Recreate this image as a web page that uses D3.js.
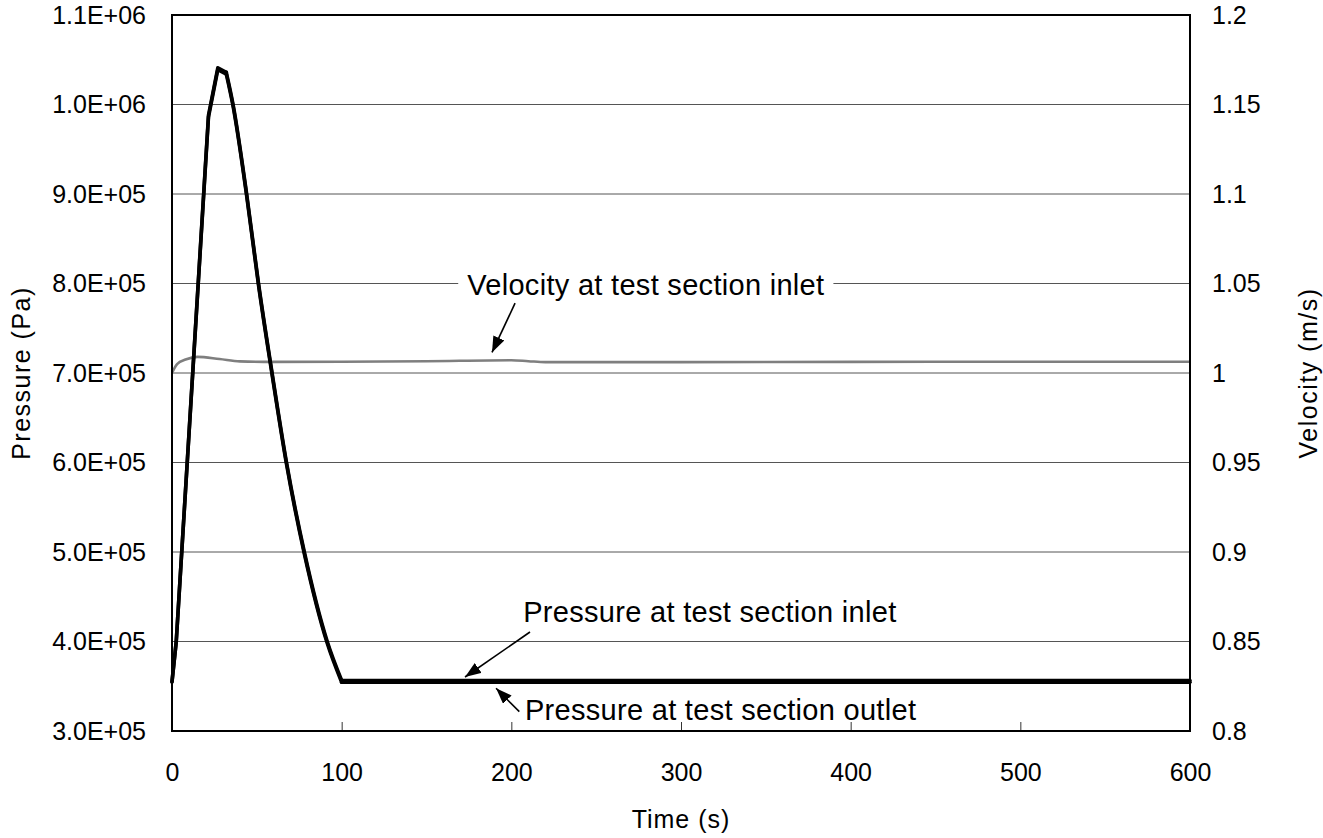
<!DOCTYPE html>
<html>
<head>
<meta charset="utf-8">
<script src="https://cdn.jsdelivr.net/npm/d3@7"></script>
<style>
  html, body { margin: 0; padding: 0; background: #fff; }
  svg { display: block; font-family: "Liberation Sans", Arial, sans-serif; }
</style>
</head>
<body>
<svg id="chart" width="1323" height="838"></svg>
<script>
// ---------- DATA ----------
const timeTicks = [0, 100, 200, 300, 400, 500, 600];
const timeTickLabels = ["0", "100", "200", "300", "400", "500", "600"];
const pressureTicks = [3e5, 4e5, 5e5, 6e5, 7e5, 8e5, 9e5, 1e6, 1.1e6];
const pressureTickLabels = ["3.0E+05", "4.0E+05", "5.0E+05", "6.0E+05", "7.0E+05", "8.0E+05", "9.0E+05", "1.0E+06", "1.1E+06"];
const velocityTicks = [0.8, 0.85, 0.9, 0.95, 1.0, 1.05, 1.1, 1.15, 1.2];
const velocityTickLabels = ["0.8", "0.85", "0.9", "0.95", "1", "1.05", "1.1", "1.15", "1.2"];

const pressureTime = [0, 2.5, 21.5, 27, 32, 36, 44, 51, 59, 67.5, 78, 91.5, 100, 600];
const pressureInlet = [3.55e5, 4.0e5, 9.88e5, 1.041e6, 1.036e6, 1.0e6, 9.0e5, 8.0e5, 7.0e5, 6.0e5, 5.0e5, 4.0e5, 3.565e5, 3.565e5];
const pressureOutlet = [3.55e5, 4.0e5, 9.86e5, 1.039e6, 1.034e6, 0.998e6, 8.98e5, 7.98e5, 6.98e5, 5.98e5, 4.98e5, 3.98e5, 3.545e5, 3.545e5];

const velocityTime = [0, 3, 8, 15, 28, 40, 60, 100, 150, 200, 210, 220, 300, 400, 500, 600];
const velocityInlet = [1.000, 1.005, 1.0075, 1.009, 1.0078, 1.0065, 1.0062, 1.0063, 1.0066, 1.0071, 1.0066, 1.0061, 1.0061, 1.0062, 1.0063, 1.0063];

// annotations in data units (time, pressure)
const annotationLabels = ["Velocity at test section inlet", "Pressure at test section inlet", "Pressure at test section outlet"];
const annotationTextPos = [[174, 7.87e5], [207, 4.22e5], [208, 3.123e5]];
const annotationArrowFrom = [[202.2, 7.78e5], [211, 4.106e5], [204.7, 3.216e5]];
const annotationArrowTo = [[188.6, 7.23e5], [172.7, 3.603e5], [191, 3.477e5]];

// ---------- LAYOUT ----------
const L = 172, R = 1190, T = 15, B = 731;
const svg = d3.select("#chart");

const x = d3.scaleLinear().domain([0, 600]).range([L, R]);
const yP = d3.scaleLinear().domain([3e5, 1.1e6]).range([B, T]);
const yV = d3.scaleLinear().domain([0.8, 1.2]).range([B, T]);

// gridlines
svg.append("g").selectAll("line")
  .data(pressureTicks.slice(1, -1))
  .join("line")
  .attr("x1", L).attr("x2", R)
  .attr("y1", d => yP(d)).attr("y2", d => yP(d))
  .attr("stroke", "#555").attr("stroke-width", 1);

// axes
const fontSize = 25;
const xAxis = svg.append("g").attr("transform", `translate(0,${B})`)
  .call(d3.axisBottom(x).tickValues(timeTicks).tickFormat((d, i) => timeTickLabels[i])
        .tickSizeInner(-9).tickSizeOuter(0).tickPadding(32));
xAxis.select(".domain").remove();
xAxis.selectAll(".tick line").attr("stroke", "#333").attr("stroke-width", 1);
xAxis.selectAll("text").attr("font-size", fontSize).attr("fill", "#000")
  .attr("font-family", "Liberation Sans, Arial, sans-serif");

const yAxisL = svg.append("g").attr("transform", `translate(${L},0)`)
  .call(d3.axisLeft(yP).tickValues(pressureTicks).tickFormat((d, i) => pressureTickLabels[i])
        .tickSize(0).tickPadding(26));
yAxisL.select(".domain").remove();
yAxisL.selectAll("text").attr("font-size", fontSize).attr("fill", "#000")
  .attr("font-family", "Liberation Sans, Arial, sans-serif");

const yAxisR = svg.append("g").attr("transform", `translate(${R},0)`)
  .call(d3.axisRight(yV).tickValues(velocityTicks).tickFormat((d, i) => velocityTickLabels[i])
        .tickSize(0).tickPadding(22));
yAxisR.select(".domain").remove();
yAxisR.selectAll("text").attr("font-size", fontSize).attr("fill", "#000")
  .attr("font-family", "Liberation Sans, Arial, sans-serif");

// axis titles
svg.append("text")
  .attr("transform", `translate(30,${(T + B) / 2}) rotate(-90)`)
  .attr("text-anchor", "middle").attr("font-size", 25).attr("letter-spacing", 1.5)
  .text("Pressure (Pa)");
svg.append("text")
  .attr("transform", `translate(1317,${(T + B) / 2}) rotate(-90)`)
  .attr("text-anchor", "middle").attr("font-size", 25).attr("letter-spacing", 1.5)
  .text("Velocity (m/s)");
svg.append("text")
  .attr("x", (L + R) / 2).attr("y", 828)
  .attr("text-anchor", "middle").attr("font-size", 25).attr("letter-spacing", 1)
  .text("Time (s)");

// annotation texts (with white background where needed)
const annG = svg.append("g");
annotationLabels.forEach((lab, i) => {
  const t = annG.append("text")
    .attr("x", x(annotationTextPos[i][0]))
    .attr("y", yP(annotationTextPos[i][1]))
    .attr("font-size", 29).attr("letter-spacing", 0.3)
    .attr("fill", "#000")
    .text(lab);
  if (i === 0) {
    const bb = t.node().getBBox();
    annG.insert("rect", "text")
      .attr("x", bb.x - 9).attr("y", bb.y + 2)
      .attr("width", bb.width + 18).attr("height", bb.height - 4)
      .attr("fill", "#fff");
  }
});

// series lines
const lineP = d3.line().x(d => x(d[0])).y(d => yP(d[1]));
const linePsmooth = d3.line().x(d => x(d[0])).y(d => yP(d[1])).curve(d3.curveMonotoneX);
const lineV = d3.line().x(d => x(d[0])).y(d => yV(d[1])).curve(d3.curveMonotoneX);

svg.append("path")
  .datum(velocityTime.map((t, i) => [t, velocityInlet[i]]))
  .attr("d", lineV).attr("fill", "none")
  .attr("stroke", "#7f7f7f").attr("stroke-width", 2.6);

const peakIdx = 4;   // linear rise up to the plateau corner
const floorIdx = 12; // smooth decay down to t = 100, then flat
[pressureOutlet, pressureInlet].forEach(series => {
  const pts = pressureTime.map((t, i) => [t, series[i]]);
  const segs = [
    [pts.slice(0, peakIdx + 1), lineP],
    [pts.slice(peakIdx, floorIdx + 1), linePsmooth],
    [pts.slice(floorIdx), lineP]
  ];
  segs.forEach(([d, gen]) => {
    svg.append("path")
      .datum(d)
      .attr("d", gen).attr("fill", "none")
      .attr("stroke", "#000").attr("stroke-width", 3.6)
      .attr("stroke-linejoin", "round").attr("stroke-linecap", "round");
  });
});

// arrows
const defs = svg.append("defs");
defs.append("marker")
  .attr("id", "ah").attr("markerUnits", "userSpaceOnUse")
  .attr("viewBox", "0 0 16 12").attr("refX", 16).attr("refY", 6)
  .attr("markerWidth", 16).attr("markerHeight", 12).attr("orient", "auto")
  .append("path").attr("d", "M0,0 L16,6 L0,12 Z").attr("fill", "#000");

annotationArrowFrom.forEach((f, i) => {
  const to = annotationArrowTo[i];
  svg.append("line")
    .attr("x1", x(f[0])).attr("y1", yP(f[1]))
    .attr("x2", x(to[0])).attr("y2", yP(to[1]))
    .attr("stroke", "#000").attr("stroke-width", 1.6)
    .attr("marker-end", "url(#ah)");
});

// plot frame
svg.append("rect")
  .attr("x", L).attr("y", T).attr("width", R - L).attr("height", B - T)
  .attr("fill", "none").attr("stroke", "#000").attr("stroke-width", 2);
</script>
</body>
</html>
